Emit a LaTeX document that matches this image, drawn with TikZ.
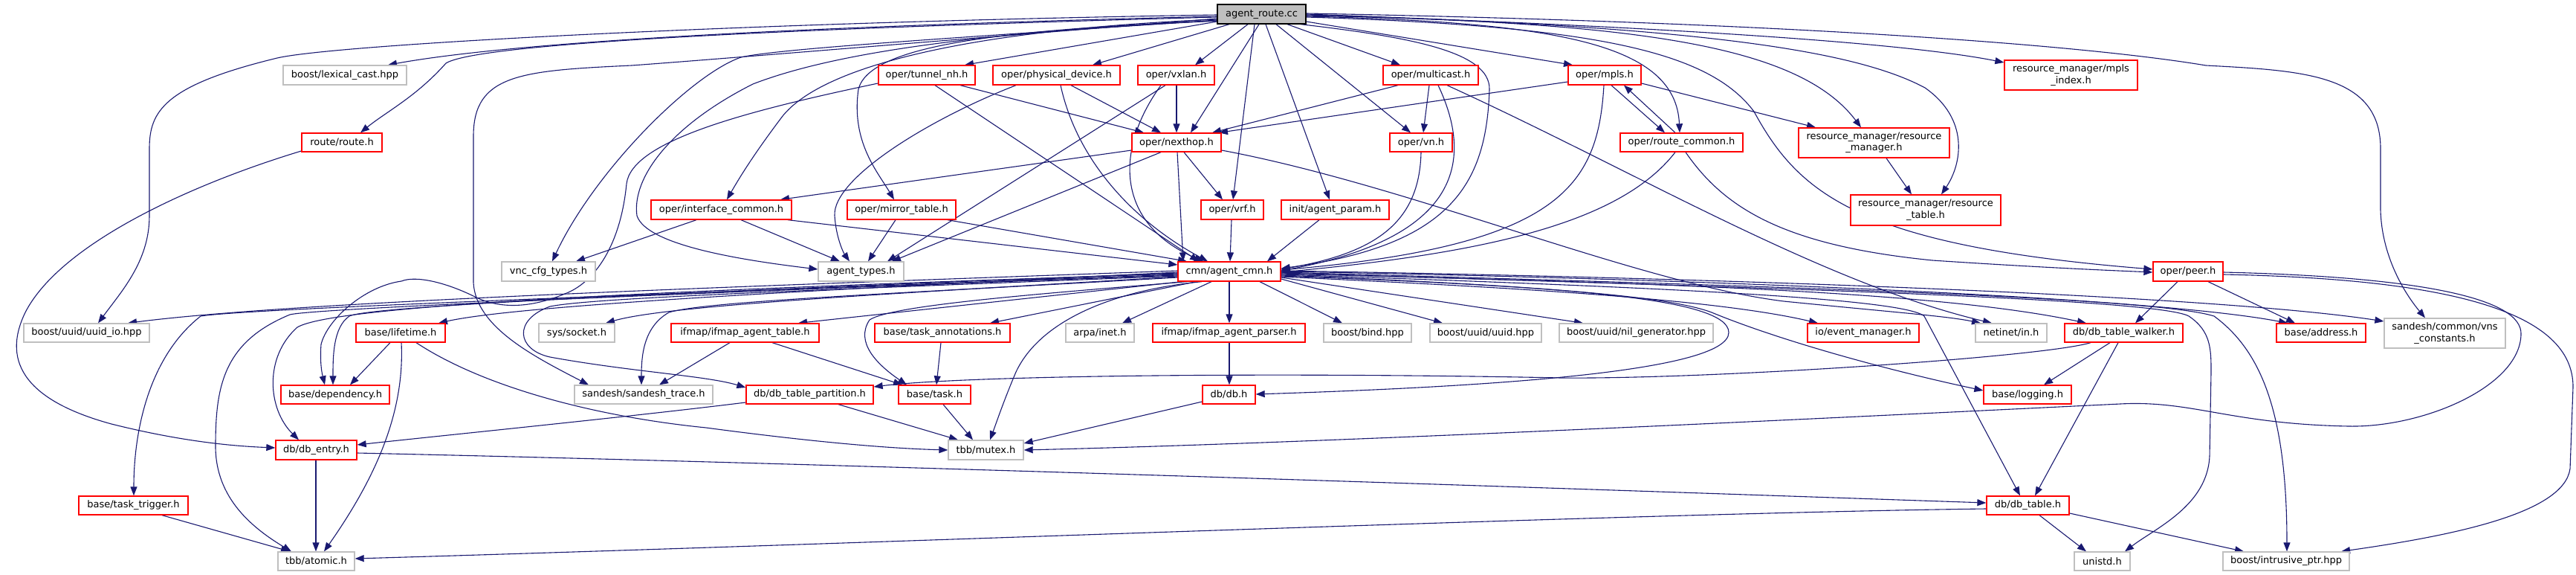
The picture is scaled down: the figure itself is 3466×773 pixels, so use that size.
\documentclass[tikz,border=0pt]{standalone}
\usepackage{fontspec}
\setmainfont{DejaVu Sans}
\usetikzlibrary{arrows.meta,backgrounds}
\definecolor{edgeblue}{HTML}{191970}
\definecolor{boxred}{HTML}{FF0000}
\definecolor{boxgray}{HTML}{BFBFBF}
\newcommand{\gnode}[7]{\node[#1, minimum width={#4-#3}, minimum height={#6-#5}] (#2) at ({(#3+#4)/2},{(#5+#6)/2}) {#7};}
\tikzset{
  nbox/.style={draw, rectangle, inner sep=0pt, line width=1.3pt, align=center, text=black, fill=white, font=\fontsize{13}{15.5}\selectfont},
  redbox/.style={nbox, draw=boxred},
  graybox/.style={nbox, draw=boxgray},
  rootbox/.style={nbox, draw=black, fill=boxgray},
  edge/.style={draw=edgeblue, line width=1.1pt, -{Triangle[length=12pt,width=9pt]}}
}
\begin{document}
\begin{tikzpicture}[x=1pt,y=-1pt]
\useasboundingbox (0,0) rectangle (3466,773);
% nodes
\gnode{rootbox}{root}{1638}{1757}{6}{32}{agent\_route.cc}
\gnode{graybox}{lex}{381}{547}{88}{114}{boost/lexical\_cast.hpp}
\gnode{redbox}{tun}{1182}{1312}{88}{114}{oper/tunnel\_nh.h}
\gnode{redbox}{phys}{1336}{1507}{88}{114}{oper/physical\_device.h}
\gnode{redbox}{vxlan}{1531}{1634}{88}{114}{oper/vxlan.h}
\gnode{redbox}{mcast}{1861}{1989}{88}{114}{oper/multicast.h}
\gnode{redbox}{mpls}{2110}{2208}{88}{114}{oper/mpls.h}
\gnode{redbox}{mplsidx}{2697}{2876}{81}{121}{resource\_manager/mpls\\\_index.h}
\gnode{redbox}{routeh}{406}{514}{179}{204}{route/route.h}
\gnode{redbox}{nh}{1523}{1643}{179}{204}{oper/nexthop.h}
\gnode{redbox}{vn}{1870}{1954}{179}{204}{oper/vn.h}
\gnode{redbox}{rcom}{2180}{2345}{179}{204}{oper/route\_common.h}
\gnode{redbox}{rmgr}{2420}{2623}{172}{212}{resource\_manager/resource\\\_manager.h}
\gnode{redbox}{ifc}{876}{1065}{269}{295}{oper/interface\_common.h}
\gnode{redbox}{mirror}{1140}{1286}{269}{295}{oper/mirror\_table.h}
\gnode{redbox}{vrf}{1616}{1700}{269}{295}{oper/vrf.h}
\gnode{redbox}{aparam}{1724}{1869}{269}{295}{init/agent\_param.h}
\gnode{redbox}{rtable}{2490}{2692}{262}{303}{resource\_manager/resource\\\_table.h}
\gnode{graybox}{vnc}{675}{801}{352}{378}{vnc\_cfg\_types.h}
\gnode{graybox}{atypes}{1101}{1216}{352}{378}{agent\_types.h}
\gnode{redbox}{cmn}{1585}{1723}{352}{378}{cmn/agent\_cmn.h}
\gnode{redbox}{peer}{2897}{2991}{352}{378}{oper/peer.h}
\gnode{graybox}{uuidio}{32}{201}{435}{460}{boost/uuid/uuid\_io.hpp}
\gnode{redbox}{life}{479}{599}{435}{460}{base/lifetime.h}
\gnode{graybox}{sock}{725}{827}{435}{460}{sys/socket.h}
\gnode{redbox}{iftab}{903}{1102}{435}{460}{ifmap/ifmap\_agent\_table.h}
\gnode{redbox}{tann}{1177}{1359}{435}{460}{base/task\_annotations.h}
\gnode{graybox}{inet}{1434}{1526}{435}{460}{arpa/inet.h}
\gnode{redbox}{ifpar}{1551}{1756}{435}{460}{ifmap/ifmap\_agent\_parser.h}
\gnode{graybox}{bind}{1781}{1899}{435}{460}{boost/bind.hpp}
\gnode{graybox}{uuid}{1924}{2074}{435}{460}{boost/uuid/uuid.hpp}
\gnode{graybox}{nilg}{2098}{2305}{435}{460}{boost/uuid/nil\_generator.hpp}
\gnode{redbox}{evm}{2432}{2582}{435}{460}{io/event\_manager.h}
\gnode{graybox}{netin}{2658}{2754}{435}{460}{netinet/in.h}
\gnode{redbox}{walker}{2778}{2937}{435}{460}{db/db\_table\_walker.h}
\gnode{redbox}{addr}{3063}{3183}{435}{460}{base/address.h}
\gnode{graybox}{vns}{3208}{3371}{428}{468}{sandesh/common/vns\\\_constants.h}
\gnode{redbox}{dep}{378}{524}{518}{543}{base/dependency.h}
\gnode{graybox}{strace}{773}{959}{518}{543}{sandesh/sandesh\_trace.h}
\gnode{redbox}{dbtp}{1004}{1175}{518}{543}{db/db\_table\_partition.h}
\gnode{redbox}{task}{1209}{1306}{518}{543}{base/task.h}
\gnode{redbox}{dbh}{1618}{1689}{518}{543}{db/db.h}
\gnode{redbox}{logg}{2669}{2787}{518}{543}{base/logging.h}
\gnode{redbox}{dbe}{371}{480}{592}{618}{db/db\_entry.h}
\gnode{graybox}{mutex}{1276}{1377}{592}{618}{tbb/mutex.h}
\gnode{redbox}{ttrig}{106}{253}{667}{692}{base/task\_trigger.h}
\gnode{redbox}{dbt}{2673}{2784}{667}{692}{db/db\_table.h}
\gnode{graybox}{atomic}{374}{477}{742}{767}{tbb/atomic.h}
\gnode{graybox}{unistd}{2791}{2866}{742}{767}{unistd.h}
\gnode{graybox}{iptr}{2991}{3161}{742}{767}{boost/intrusive\_ptr.hpp}
\begin{scope}[on background layer]
% root edges
\draw[edge] (root.west |- 0,22) .. controls (1100,35) and (700,55) .. (lex.north -| 522,0);
\draw[edge] (root.west |- 0,23) .. controls (1000,40) and (640,60) .. (600,85) .. controls (560,130) and (520,150) .. (routeh.north -| 485,0);
\draw[edge] (root.west |- 0,20) .. controls (1000,30) and (450,60) .. (373,78) .. controls (220,115) and (201,150) .. (201,200) -- (201,290) .. controls (201,350) and (165,390) .. (uuidio.north -| 132,0);
\draw[edge] (root.west |- 0,25) .. controls (1200,60) and (960,80) .. (850,88) .. controls (700,95) and (637,100) .. (637,183) -- (637,380) .. controls (640,440) and (720,480) .. (strace.north -| 792,0);
\draw[edge] (root.west |- 0,27) .. controls (1300,50) and (1050,65) .. (997,77) .. controls (930,100) and (800,230) .. (vnc.north -| 743,0);
\draw[edge] (root.west |- 0,28) .. controls (1400,40) and (1150,60) .. (1013,113) .. controls (900,170) and (850,240) .. (857,290) .. controls (870,330) and (1000,350) .. (atypes.west |- 0,362);
\draw[edge] (root.west |- 0,26) .. controls (1300,40) and (1100,90) .. (1050,160) .. controls (1020,200) and (1000,230) .. (ifc.north -| 978,0);
\draw[edge] (root.west |- 0,28) .. controls (1350,40) and (1170,60) .. (1155,120) .. controls (1145,190) and (1180,230) .. (mirror.north -| 1203,0);
\draw[edge] (root.west |- 0,29) -- (tun.north -| 1298,0);
\draw[edge] (root.south -| 1654,0) -- (phys.north -| 1470,0);
\draw[edge] (root.south -| 1679,0) -- (vxlan.north -| 1608,0);
\draw[edge] (root.south -| 1694,0) -- (nh.north -| 1602,0);
\draw[edge] (root.south -| 1688,0) -- (vrf.north -| 1659,0);
\draw[edge] (root.south -| 1703,0) -- (aparam.north -| 1789,0);
\draw[edge] (root.south -| 1717,0) -- (vn.north -| 1898,0);
\draw[edge] (root.south -| 1732,0) -- (mcast.north -| 1884,0);
\draw[edge] (root.east |- 0,29) -- (mpls.north -| 2116,0);
\draw[edge] (root.south -| 1750,0) .. controls (1900,50) and (2005,70) .. (2004,120) .. controls (2000,250) and (1950,330) .. (cmn.east |- 0,361);
\draw[edge] (root.east |- 0,22) .. controls (2100,30) and (2255,60) .. (rcom.north -| 2260,0);
\draw[edge] (root.east |- 0,21) .. controls (2200,30) and (2420,60) .. (rmgr.north -| 2504,0);
\draw[edge] (root.east |- 0,20) .. controls (2300,35) and (2500,70) .. (2590,118) .. controls (2650,160) and (2640,220) .. (rtable.north -| 2612,0);
\draw[edge] (root.east |- 0,19) .. controls (2200,35) and (2550,55) .. (mplsidx.west |- 0,84);
\draw[edge] (root.east |- 0,18) .. controls (2400,30) and (2800,60) .. (2968,88) .. controls (3100,95) and (3203,100) .. (3203,200) -- (3203,283) .. controls (3205,350) and (3240,400) .. (vns.north -| 3263,0);
\draw[edge] (root.east |- 0,23) .. controls (2150,35) and (2300,70) .. (2360,150) .. controls (2420,260) and (2500,330) .. (peer.west |- 0,362);
% second level
\draw[edge] (tun.south -| 1292,0) -- (nh.north -| 1539,0);
\draw[edge] (tun.south -| 1258,0) -- (cmn.north -| 1613,0);
\draw[edge] (tun.west |- 0,112) .. controls (1000,150) and (850,190) .. (843,247) .. controls (835,330) and (800,380) .. (760,395) .. controls (700,420) and (660,410) .. (637,398) .. controls (600,380) and (560,370) .. (540,378) .. controls (490,385) and (440,430) .. (432,463) .. controls (430,490) and (434,505) .. (dep.north -| 437,0);
\draw[edge] (phys.south -| 1441,0) -- (nh.north -| 1562,0);
\draw[edge] (phys.south -| 1427,0) .. controls (1450,220) and (1530,300) .. (cmn.north -| 1625,0);
\draw[edge] (phys.south -| 1367,0) .. controls (1250,160) and (1120,240) .. (1123,290) .. controls (1125,320) and (1135,340) .. (atypes.north -| 1143,0);
\draw[edge] (vxlan.south -| 1583,0) -- (nh.north -| 1583,0);
\draw[edge] (vxlan.south -| 1562,0) .. controls (1500,200) and (1500,300) .. (cmn.north -| 1619,0);
\draw[edge] (vxlan.south -| 1568,0) -- (atypes.north -| 1194,0);
\draw[edge] (mcast.south -| 1881,0) -- (nh.north -| 1631,0);
\draw[edge] (mcast.south -| 1923,0) -- (vn.north -| 1915,0);
\draw[edge] (mcast.south -| 1935,0) .. controls (1985,220) and (1960,320) .. (cmn.east |- 0,364);
\draw[edge] (mcast.south -| 1947,0) .. controls (2200,230) and (2450,380) .. (netin.north -| 2680,0);
\draw[edge] (mpls.west |- 0,110) -- (nh.north -| 1640,0);
\draw[edge] (mpls.south -| 2168,0) -- (rcom.north -| 2240,0);
\draw[edge] (rcom.north -| 2254,0) -- (mpls.south -| 2185,0);
\draw[edge] (mpls.east |- 0,112) -- (rmgr.north -| 2443,0);
\draw[edge] (mpls.south -| 2158,0) .. controls (2150,250) and (2100,330) .. (cmn.east |- 0,363);
\draw[edge] (rcom.south -| 2254,0) .. controls (2180,300) and (2000,340) .. (cmn.east |- 0,366);
\draw[edge] (rcom.south -| 2268,0) .. controls (2320,280) and (2400,330) .. (2600,350) .. controls (2750,360) and (2850,364) .. (peer.west |- 0,366);
\draw[edge] (rmgr.south -| 2538,0) -- (rtable.north -| 2572,0);
\draw[edge] (vn.south -| 1912,0) .. controls (1910,300) and (1850,340) .. (cmn.east |- 0,362);
\draw[edge] (nh.west |- 0,202) -- (ifc.north -| 1050,0);
\draw[edge] (nh.south -| 1562,0) -- (atypes.north -| 1200,0);
\draw[edge] (nh.south -| 1584,0) -- (cmn.north -| 1592,0);
\draw[edge] (nh.south -| 1593,0) -- (vrf.north -| 1645,0);
\draw[edge] (nh.east |- 0,202) .. controls (1900,250) and (2200,380) .. (2400,405) .. controls (2550,420) and (2620,425) .. (netin.north -| 2665,0);
\draw[edge] (vrf.south -| 1657,0) -- (cmn.north -| 1655,0);
\draw[edge] (aparam.south -| 1775,0) -- (cmn.north -| 1705,0);
\draw[edge] (ifc.south -| 937,0) -- (vnc.north -| 775,0);
\draw[edge] (ifc.south -| 997,0) -- (atypes.north -| 1130,0);
\draw[edge] (ifc.south -| 1060,0) -- (cmn.west |- 0,356);
\draw[edge] (mirror.south -| 1205,0) -- (atypes.north -| 1168,0);
\draw[edge] (mirror.south -| 1275,0) -- (cmn.north -| 1597,0);
\draw[edge] (routeh.west |- 0,203) .. controls (250,250) and (80,330) .. (34,420) .. controls (0,490) and (40,540) .. (150,570) .. controls (250,595) and (320,600) .. (dbe.west |- 0,602);
% agent_cmn fan, left
\draw[edge] (cmn.west |- 0,364) .. controls (1000,385) and (400,405) .. (uuidio.north -| 172,0);
\draw[edge] (cmn.west |- 0,366) .. controls (1100,390) and (700,410) .. (life.north -| 590,0);
\draw[edge] (cmn.west |- 0,367) .. controls (1000,390) and (500,410) .. (470,425) .. controls (448,440) and (448,480) .. (dep.north -| 448,0);
\draw[edge] (cmn.west |- 0,368) .. controls (900,390) and (450,410) .. (400,440) .. controls (355,480) and (360,550) .. (dbe.north -| 402,0);
\draw[edge] (cmn.west |- 0,369) .. controls (900,395) and (330,415) .. (270,425) .. controls (200,480) and (180,580) .. (ttrig.north -| 180,0);
\draw[edge] (cmn.west |- 0,370) .. controls (900,395) and (420,415) .. (390,423) .. controls (300,460) and (290,520) .. (290,600) .. controls (290,670) and (340,710) .. (atomic.north -| 392,0);
\draw[edge] (cmn.west |- 0,372) .. controls (1200,395) and (900,410) .. (sock.north -| 815,0);
\draw[edge] (cmn.west |- 0,373) .. controls (1200,395) and (950,405) .. (900,420) .. controls (865,440) and (863,480) .. (strace.north -| 863,0);
\draw[edge] (cmn.west |- 0,371) .. controls (1100,390) and (800,400) .. (740,412) .. controls (690,430) and (695,470) .. (740,480) .. controls (850,500) and (950,505) .. (dbtp.west |- 0,521);
\draw[edge] (cmn.south -| 1590,0) -- (iftab.north -| 1074,0);
\draw[edge] (cmn.south -| 1610,0) -- (tann.north -| 1332,0);
\draw[edge] (cmn.south -| 1597,0) .. controls (1400,395) and (1200,410) .. (1170,430) .. controls (1150,460) and (1180,490) .. (task.north -| 1220,0);
\draw[edge] (cmn.south -| 1617,0) .. controls (1500,390) and (1400,430) .. (1367,500) .. controls (1350,540) and (1340,570) .. (mutex.north -| 1332,0);
\draw[edge] (cmn.south -| 1630,0) -- (inet.north -| 1510,0);
\draw[edge] (cmn.south -| 1654,0) -- (ifpar.north -| 1654,0);
\draw[edge] (cmn.south -| 1695,0) -- (bind.north -| 1806,0);
% agent_cmn fan, right
\draw[edge] (cmn.east |- 0,375) -- (uuid.north -| 1941,0);
\draw[edge] (cmn.east |- 0,373) -- (nilg.north -| 2130,0);
\draw[edge] (cmn.east |- 0,372) .. controls (2000,385) and (2300,400) .. (evm.north -| 2446,0);
\draw[edge] (cmn.east |- 0,371) .. controls (2100,385) and (2326,400) .. (2326,447) .. controls (2326,500) and (2000,520) .. (dbh.east |- 0,530);
\draw[edge] (cmn.east |- 0,370) .. controls (2100,385) and (2250,400) .. (2303,420) .. controls (2400,460) and (2550,500) .. (logg.west |- 0,525);
\draw[edge] (cmn.east |- 0,368) .. controls (2200,380) and (2600,390) .. (walker.north -| 2807,0);
\draw[edge] (cmn.east |- 0,369) .. controls (2200,385) and (2560,400) .. (2589,425) -- (dbt.north -| 2718,0);
\draw[edge] (cmn.east |- 0,367) .. controls (2300,385) and (2900,400) .. (2945,425) .. controls (2975,445) and (2975,470) .. (2975,500) -- (2973,613) .. controls (2970,680) and (2900,710) .. (unistd.north -| 2859,0);
\draw[edge] (cmn.east |- 0,366) .. controls (2400,385) and (2900,400) .. (2979,425) .. controls (3040,470) and (3077,550) .. (iptr.north -| 3077,0);
\draw[edge] (cmn.east |- 0,365) .. controls (2300,375) and (2900,400) .. (addr.north -| 3078,0);
\draw[edge] (cmn.east |- 0,364) .. controls (2400,375) and (3000,400) .. (vns.west |- 0,432);
% peer
\draw[edge] (peer.south -| 2930,0) -- (walker.north -| 2873,0);
\draw[edge] (peer.south -| 2971,0) -- (addr.north -| 3088,0);
\draw[edge] (peer.east |- 0,366) .. controls (3250,372) and (3395,400) .. (3392,450) .. controls (3390,520) and (3260,575) .. (3160,573) .. controls (3000,570) and (2950,538) .. (2853,543) .. controls (2500,560) and (1800,595) .. (mutex.east |- 0,605);
\draw[edge] (peer.east |- 0,369) .. controls (3300,375) and (3462,420) .. (3462,520) -- (3458,630) .. controls (3450,690) and (3300,720) .. (iptr.north -| 3150,0);
% lower levels
\draw[edge] (walker.south -| 2813,0) .. controls (2750,480) and (2300,510) .. (2100,508) .. controls (1700,500) and (1300,505) .. (dbtp.east |- 0,520);
\draw[edge] (walker.south -| 2839,0) -- (logg.north -| 2750,0);
\draw[edge] (walker.south -| 2850,0) -- (dbt.north -| 2738,0);
\draw[edge] (life.south -| 525,0) -- (dep.north -| 471,0);
\draw[edge] (life.south -| 540,0) .. controls (545,560) and (500,650) .. (atomic.north -| 436,0);
\draw[edge] (life.south -| 560,0) .. controls (650,520) and (800,560) .. (950,575) .. controls (1100,595) and (1200,603) .. (mutex.west |- 0,605);
\draw[edge] (dbe.south -| 425,0) -- (atomic.north -| 425,0);
\draw[edge] (dbe.east |- 0,609) .. controls (1200,625) and (2200,660) .. (dbt.west |- 0,676);
\draw[edge] (dbt.west |- 0,684) .. controls (2200,690) and (1200,730) .. (atomic.east |- 0,751);
\draw[edge] (ttrig.south -| 218,0) -- (atomic.north -| 390,0);
\draw[edge] (dbtp.west |- 0,541) .. controls (850,560) and (600,585) .. (dbe.east |- 0,598);
\draw[edge] (dbtp.south -| 1128,0) -- (mutex.north -| 1289,0);
\draw[edge] (task.south -| 1269,0) -- (mutex.north -| 1309,0);
\draw[edge] (tann.south -| 1266,0) -- (task.north -| 1260,0);
\draw[edge] (iftab.south -| 982,0) -- (strace.north -| 887,0);
\draw[edge] (iftab.south -| 1039,0) -- (task.north -| 1214,0);
\draw[edge] (ifpar.south -| 1654,0) -- (dbh.north -| 1654,0);
\draw[edge] (dbh.west |- 0,540) -- (mutex.east |- 0,596);
\draw[edge] (dbt.south -| 2744,0) -- (unistd.north -| 2807,0);
\draw[edge] (dbt.east |- 0,690) -- (iptr.north -| 3019,0);
\end{scope}
\end{tikzpicture}
\end{document}
